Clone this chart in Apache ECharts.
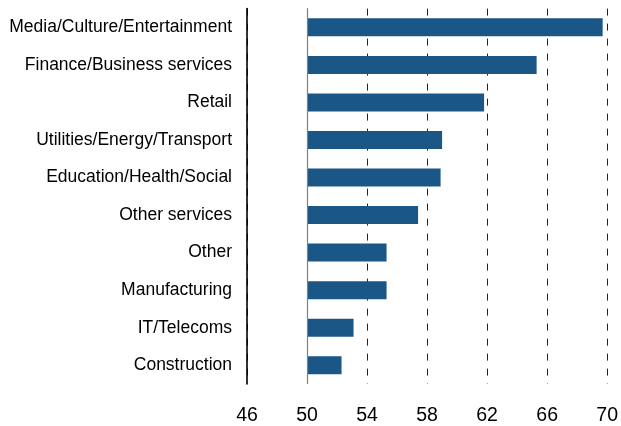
<!DOCTYPE html>
<html>
<head>
<meta charset="utf-8">
<script src="https://cdn.jsdelivr.net/npm/echarts@6/dist/echarts.min.js"></script>
<style>
  html, body { margin: 0; padding: 0; background: #fff; }
  #chart { width: 621px; height: 426px; }
</style>
</head>
<body>
<div id="chart"></div>
<script>
// Sector scores, top to bottom
const categories = [
  'Media/Culture/Entertainment',
  'Finance/Business services',
  'Retail',
  'Utilities/Energy/Transport',
  'Education/Health/Social',
  'Other services',
  'Other',
  'Manufacturing',
  'IT/Telecoms',
  'Construction'
];
const values = [69.7, 65.3, 61.8, 59.0, 58.9, 57.4, 55.3, 55.3, 53.1, 52.3];

// Bars grow out of this baseline
const baseline = 50;
const xTicks = { min: 46, max: 70, interval: 4 };

const font = '"Liberation Sans", Arial, sans-serif';

const chart = echarts.init(document.getElementById('chart'));
chart.setOption({
  animation: false,
  grid: { left: 247, right: 11, top: 8.6, bottom: 39.4, containLabel: false },
  xAxis: {
    type: 'value',
    min: xTicks.min,
    max: xTicks.max,
    interval: xTicks.interval,
    axisLine: { show: false },
    axisTick: { show: false },
    axisLabel: { color: '#000', fontSize: 19.5, fontFamily: font, margin: 22 },
    splitLine: { show: true, lineStyle: { color: '#222', width: 1, type: [7, 8] } }
  },
  yAxis: {
    type: 'category',
    inverse: true,
    data: categories,
    axisLine: { show: true, lineStyle: { color: '#000', width: 1.6 } },
    axisTick: { show: false },
    axisLabel: { color: '#000', fontSize: 17.5, fontFamily: font, margin: 15 }
  },
  series: [
    {
      type: 'bar',
      stack: 'v',
      silent: true,
      barWidth: 18,
      itemStyle: { color: 'transparent' },
      data: values.map(() => baseline)
    },
    {
      type: 'bar',
      stack: 'v',
      barWidth: 18,
      itemStyle: { color: '#1a5787' },
      data: values.map(v => v - baseline),
      markLine: {
        silent: true,
        symbol: 'none',
        label: { show: false },
        lineStyle: { color: '#808080', width: 1.2, type: 'solid' },
        data: [{ xAxis: baseline }]
      }
    }
  ]
});
</script>
</body>
</html>
